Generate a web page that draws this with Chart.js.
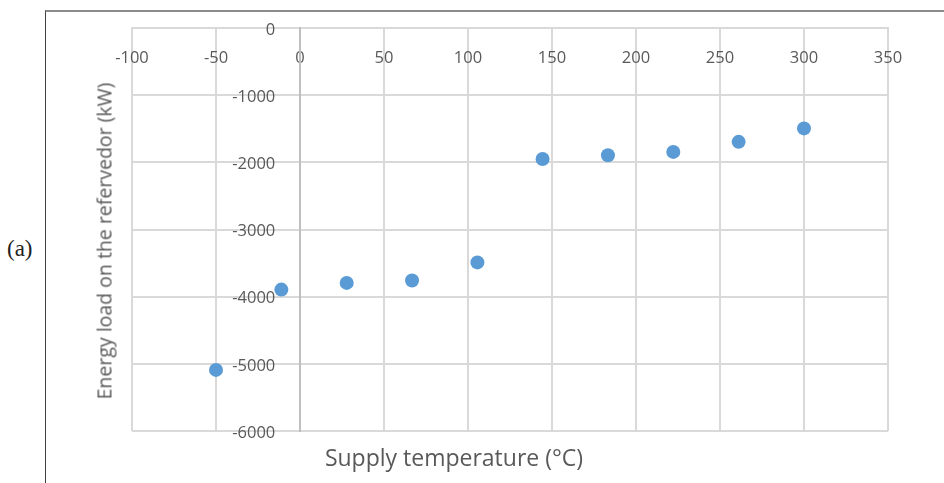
<!DOCTYPE html>
<html>
<head>
<meta charset="utf-8">
<script src="https://cdn.jsdelivr.net/npm/chart.js@4"></script>
<style>
  html, body { margin: 0; padding: 0; background: #fff; }
  #wrap { position: relative; width: 944px; height: 483px; overflow: hidden; }
  #frame {
    position: absolute; left: 45px; top: 10px; right: -4px; bottom: -4px;
    border-top: 2px solid #8c8c8c; border-left: 1px solid #404040;
  }
  #tag {
    position: absolute; left: 7px; top: 236px;
    font: 23px "Liberation Serif", "DejaVu Serif", serif; color: #222;
  }
  .axis-title { position: absolute; color: #595959; font-family: "Open Sans", sans-serif; white-space: nowrap; }
  #xtitle { left: 454px; top: 457px; transform: translate(-50%, -50%); font-size: 23px; }
  #ytitle { left: 104px; top: 241px; transform: translate(-50%, -50%) rotate(-90deg); font-size: 19.5px; }
  canvas { position: absolute; left: 0; top: 0; }
</style>
</head>
<body>
<div id="wrap">
  <div id="frame"></div>
  <div id="tag">(a)</div>
  <canvas id="chart" width="944" height="483"></canvas>
  <div class="axis-title" id="xtitle">Supply temperature (°C)</div>
  <div class="axis-title" id="ytitle">Energy load on the refervedor (kW)</div>
</div>
<script>
// Reboiler duty against supply temperature.
const supplyTemp = [-50, -11.1, 27.8, 66.7, 105.6, 144.4, 183.3, 222.2, 261.1, 300];
const energyLoad = [-5090, -3895, -3795, -3760, -3490, -1950, -1895, -1845, -1695, -1495];
const xTicks = [-100, -50, 0, 50, 100, 150, 200, 250, 300, 350];
const yTicks = [0, -1000, -2000, -3000, -4000, -5000, -6000];

const MARKER = "#5b9bd5";
const GRID = "#d9d9d9";
const TEXT = "#595959";

Chart.defaults.font.family = '"Open Sans", sans-serif';
Chart.defaults.color = TEXT;

new Chart(document.getElementById("chart"), {
  type: "scatter",
  data: {
    datasets: [{
      data: supplyTemp.map((x, i) => ({ x, y: energyLoad[i] })),
      backgroundColor: MARKER,
      borderColor: MARKER,
      pointRadius: 7,
      pointHoverRadius: 7,
      pointBorderWidth: 0,
    }],
  },
  options: {
    responsive: false,
    animation: false,
    layout: { padding: { left: 132, right: 56, top: 28, bottom: 52 } },
    plugins: { legend: { display: false }, tooltip: { enabled: false } },
    scales: {
      x: {
        type: "linear",
        position: { y: 0 },
        min: xTicks[0],
        max: xTicks[xTicks.length - 1],
        afterBuildTicks: (s) => { s.ticks = xTicks.map((v) => ({ value: v })); },
        ticks: {
          autoSkip: false, maxRotation: 0, padding: 20,
          font: { size: 16.5 }, color: TEXT,
          callback: (v) => String(v),
        },
        grid: { color: GRID, lineWidth: 2, drawTicks: false },
        border: { color: GRID, width: 2 },
      },
      y: {
        type: "linear",
        position: { x: 0 },
        min: yTicks[yTicks.length - 1],
        max: yTicks[0],
        afterBuildTicks: (s) => { s.ticks = yTicks.map((v) => ({ value: v })); },
        ticks: {
          autoSkip: false, labelOffset: 2, font: { size: 16.5 }, color: TEXT,
          // crossing axis ignores ticks.padding, so pad the label text itself
          callback: (v) => String(v) + "\u2003\u2002",
        },
        grid: { color: GRID, lineWidth: 2, drawTicks: false },
        border: { color: "#bfbfbf", width: 2 },
      },
    },
  },
});
</script>
</body>
</html>
